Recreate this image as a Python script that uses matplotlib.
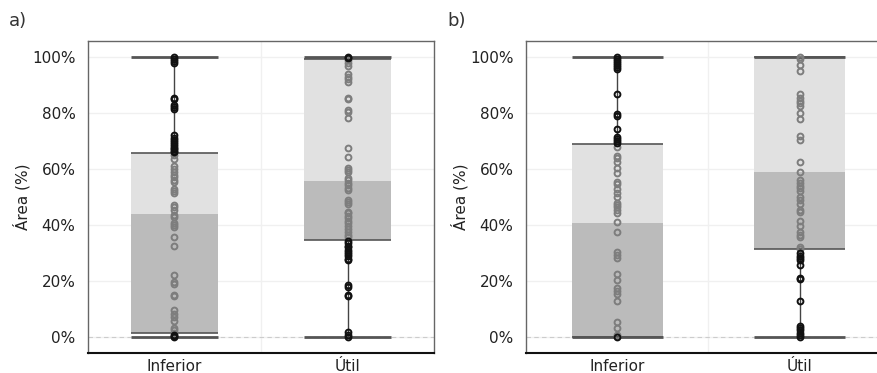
import matplotlib
matplotlib.use("Agg")
import matplotlib.pyplot as plt
import numpy as np

plt.rcParams['font.family'] = ['DejaVu Sans']

categories = ["Inferior", "Útil"]
yticks = [0, 20, 40, 60, 80, 100]
panel_labels = ["a)", "b)"]

# box stats: [whislo, q1, median, q3, whishi]
stats_a = [[0.0, 1.4, 43.9, 65.6, 100.0],
           [0.0, 34.6, 55.7, 99.3, 100.0]]
stats_b = [[0.0, 0.1, 40.7, 68.8, 100.0],
           [0.0, 31.4, 58.8, 100.0, 100.0]]

pts_a_inf = [100, 99.4, 98.5, 97.9, 85.5, 84.9, 83, 82.2, 81.5,
             72, 71, 70.2, 69.5, 69, 68.2, 67.5, 67, 66.4, 65.9,
             65, 63.5, 61.2, 60, 59, 58, 57, 56, 55.2, 52.8, 52, 51.5,
             47.1, 46.3, 45.4, 43.6, 43, 40.6, 40, 39.4, 35.9, 32.5,
             22.2, 19.8, 19, 15.1, 14.5, 9.5, 8.3, 7.1, 5.9,
             3.2, 2.4, 1.5, 0.8, 0.3, 0]
pts_a_util = [100, 99.6, 98.8, 98, 96.8, 94, 93, 92, 91, 85.5, 85,
              81.2, 80.4, 78.3, 67.6, 64.4, 60.5, 59.6, 58.8,
              56.7, 56, 55.1, 54.3, 53.3, 52.5, 48.9, 48.3, 47.4,
              44.8, 44.2, 43.3, 42.4, 41.6, 40.6, 39.7, 38.5, 37.4, 36.5, 35.6,
              34.4, 33.5, 32.6, 32, 31.2, 30.4, 29.6, 28.8, 28, 27.6,
              18.6, 17.8, 15.1, 14.5, 1.7, 0.8, 0]
pts_b_inf = [100, 99.4, 98.6, 97.8, 97, 96.4, 95.7, 86.9, 79.5, 79,
             74.2, 71.5, 70.7, 70, 69.4,
             67.9, 64.6, 63.8, 62.6, 60.5, 58.7, 55.3, 54.6, 52.7, 51.5, 50.1,
             48, 47.1, 46.3, 45.4, 44.2, 41.2, 37.6, 30.3, 29.3, 28.4,
             22.4, 20.4, 17.5, 16.3, 15.3, 12.9, 5.2, 3.2, 0.6, 0.2, 0]
pts_b_util = [100, 99.4, 97, 94.9, 86.9, 85.2, 84.3, 83.4, 82.5, 80, 77.8,
              71.7, 70.3, 62.4, 58.8, 56, 54.9, 53.9, 53.1, 52.3,
              49.9, 48.9, 47.5, 45.4, 44.8, 41.6, 39.8, 37.6, 36.5, 35.6,
              32.3, 31.5, 29.9, 29, 28.3, 27.6, 25.8, 21, 20.7, 12.9,
              4, 3.2, 2.4, 1.6, 0.8, 0]

panels = [(stats_a, [pts_a_inf, pts_a_util]), (stats_b, [pts_b_inf, pts_b_util])]
positions = [0.1003, 0.5998]
widths = [0.3946, 0.416]

fig = plt.figure(figsize=(8.77, 3.73), dpi=100)

for i, (stats, pts) in enumerate(panels):
    ax = fig.add_axes([positions[i], 0.0536, widths[i], 0.8364])
    xs = np.arange(1, len(categories) + 1)
    ax.set_xlim(0.5, 2.5)
    ax.set_ylim(-5.7, 105.7)
    for y in yticks:
        ax.axhline(y, color='#f0f0f0', lw=1, zorder=0)
    ax.axvline(1.5, color='#f0f0f0', lw=1, zorder=0)
    ax.axhline(0, color='#cccccc', lw=0.8, ls=(0, (4, 3)), zorder=0.5)

    for x, s, p in zip(xs, stats, pts):
        lo, q1, med, q3, hi = s
        ax.bar(x, med - q1, bottom=q1, width=0.5, color='#bbbbbb', zorder=1)
        ax.bar(x, q3 - med, bottom=med, width=0.5, color='#e1e1e1', zorder=1)
        ax.vlines(x, q3, hi, color='#444444', lw=1, zorder=2)
        ax.vlines(x, lo, q1, color='#444444', lw=1, zorder=2)
        ax.hlines([q1, q3], x - 0.25, x + 0.25, color='#555555', lw=1.2, zorder=2)
        ax.hlines([lo, hi], x - 0.25, x + 0.25, color='#555555', lw=2, zorder=2)
        p = np.array(p)
        inside = (p >= q1) & (p <= q3)
        ax.plot(np.full(inside.sum(), x), p[inside], 'o', ms=4.2, mfc='none',
                mec='#7d7d7d', mew=1.4, zorder=3)
        ax.plot(np.full((~inside).sum(), x), p[~inside], 'o', ms=4.2, mfc='none',
                mec='#111111', mew=1.4, zorder=3)

    ax.set_xticks(xs)
    ax.set_xticklabels(categories, fontsize=11)
    ax.set_yticks(yticks)
    ax.set_yticklabels([f"{y}%" for y in yticks], fontsize=11)
    ax.tick_params(axis='y', length=0, pad=9, colors='#222222')
    ax.tick_params(axis='x', length=0, pad=4, colors='#222222')
    ax.set_ylabel("Área (%)", fontsize=11, labelpad=1, color='#222222')
    for side in ['left', 'top', 'right']:
        ax.spines[side].set_color('#666666')
        ax.spines[side].set_linewidth(1)
    ax.spines['bottom'].set_color('#111111')
    ax.spines['bottom'].set_linewidth(1.5)

    fig.text(positions[i] - 0.09, 0.93, panel_labels[i], fontsize=13, color='#333333')

fig.savefig("out.png", dpi=100)
